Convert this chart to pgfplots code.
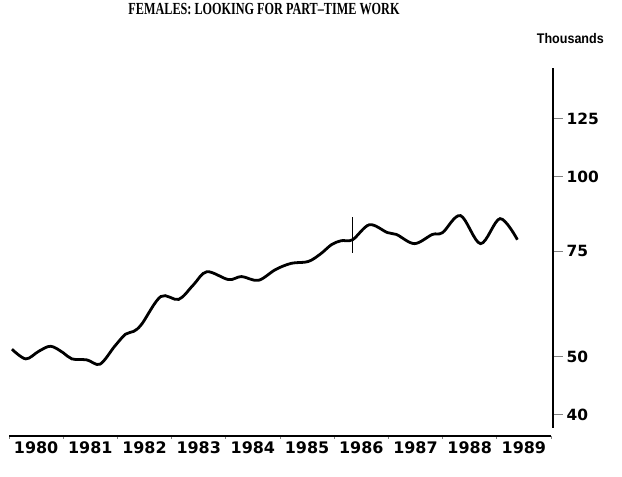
\documentclass[border=0pt]{standalone}
\usepackage{fontspec}
\setmainfont{DejaVu Sans}
\newfontfamily\titlefont{Liberation Serif}
\newfontfamily\unitfont{Liberation Sans}
\usepackage{pgfplots}
\pgfplotsset{compat=1.18}
\begin{document}
\begin{tikzpicture}[x=1bp,y=1bp]
\path[use as bounding box] (0,0) rectangle (622,477);
% x axis and data
\begin{axis}[
  at={(9bp,41bp)}, anchor=south west,
  scale only axis, width=542bp, height=368bp,
  xmin=1980, xmax=1990,
  ymode=log, ymin=37.14, ymax=153.6,
  axis x line=bottom, axis y line=none,
  x axis line style={-, line width=1.3bp},
  xtick={1980.5,1981.5,...,1989.5},
  xticklabels={1980,1981,1982,1983,1984,1985,1986,1987,1988,1989},
  major tick length=0pt,
  minor xtick={1980,1981,...,1990},
  minor tick length=3bp,
  tick align=outside,
  minor tick style={line width=1bp},
  xticklabel style={font=\fontsize{16}{18}\selectfont\bfseries, yshift=-2bp},
  ytick=\empty,
  clip=false,
]
\addplot[black, line width=2.8bp, smooth, tension=0.55] coordinates {
(1980.055,51.9) (1980.31,50.0) (1980.55,51.5) (1980.77,52.5) (1981.00,51.2) (1981.16,50.0)
(1981.44,49.8) (1981.68,49.0) (1981.95,52.5) (1982.15,55.0) (1982.30,55.6)
(1982.45,57.2) (1982.80,63.6) (1983.13,62.9) (1983.40,66.5) (1983.65,70.0)
(1984.05,67.9) (1984.29,68.7) (1984.60,67.7) (1984.92,70.6) (1985.21,72.3)
(1985.52,72.8) (1985.75,75.0) (1985.95,77.7) (1986.13,78.9) (1986.34,79.2)
(1986.65,83.9) (1986.98,81.4) (1987.15,80.8) (1987.48,78.0) (1987.81,80.8)
(1988.00,81.4) (1988.33,86.9) (1988.70,78.0) (1989.06,85.9) (1989.38,79.2)
};
\addplot[black, line width=1.5bp] coordinates {(1986.34,75.3) (1986.34,86.5)};
\end{axis}
% y axis on the right
\begin{axis}[
  at={(9bp,49bp)}, anchor=south west,
  scale only axis, width=544bp, height=360bp,
  xmin=1980, xmax=1990.074,
  ymode=log, ymin=38.0, ymax=151.8,
  axis y line=right, axis x line=none,
  y axis line style={-, line width=1.3bp},
  ytick={40,50,75,100,125},
  yticklabels={40,50,75,100,125},
  tick align=outside,
  major tick length=10bp,
  major tick style={line width=1.3bp},
  yticklabel style={font=\fontsize{15.5}{18}\selectfont\bfseries, xshift=0bp},
  xtick=\empty,
  /pgf/number format/assume math mode=true,
]
\end{axis}
\node[anchor=base, inner sep=0pt] at (264,462) {\scalebox{0.72}[1]{\titlefont\fontsize{17}{19}\selectfont\bfseries FEMALES: LOOKING FOR PART\textendash TIME WORK}};
\node[anchor=base east, inner sep=0pt] at (604,433) {\scalebox{0.9}[1]{\unitfont\fontsize{14}{16}\selectfont\bfseries Thousands}};
\end{tikzpicture}
\end{document}
